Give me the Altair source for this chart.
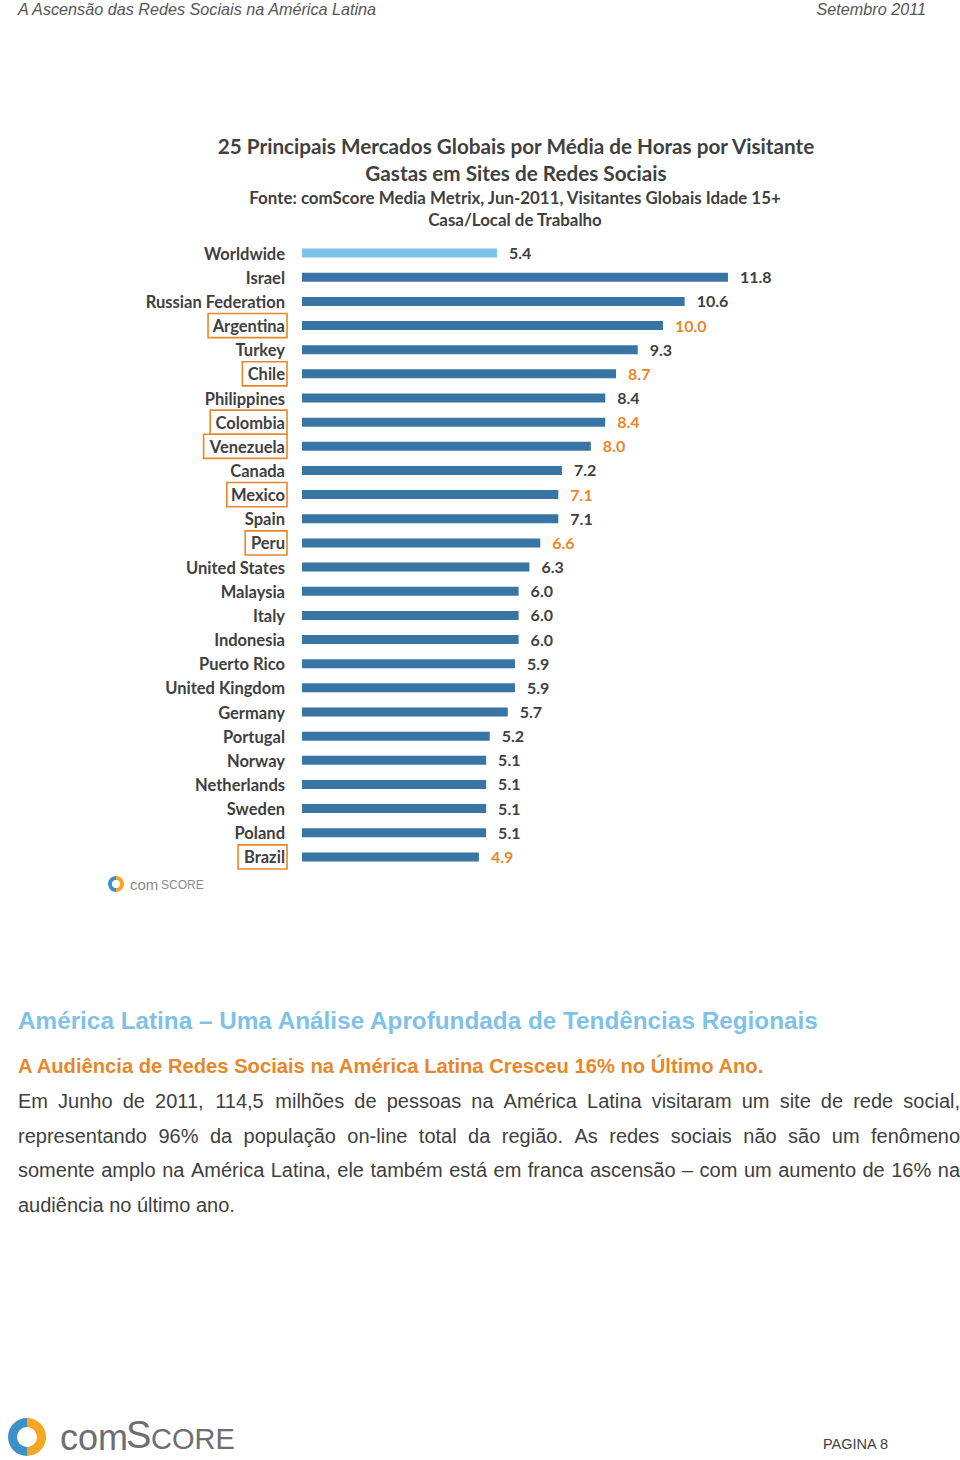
import altair as alt
import pandas as pd

# ---------------- data ----------------
countries = ["Worldwide", "Israel", "Russian Federation", "Argentina", "Turkey", "Chile",
             "Philippines", "Colombia", "Venezuela", "Canada", "Mexico", "Spain", "Peru",
             "United States", "Malaysia", "Italy", "Indonesia", "Puerto Rico",
             "United Kingdom", "Germany", "Portugal", "Norway", "Netherlands", "Sweden",
             "Poland", "Brazil"]
hours = [5.4, 11.8, 10.6, 10.0, 9.3, 8.7, 8.4, 8.4, 8.0, 7.2, 7.1, 7.1, 6.6, 6.3,
         6.0, 6.0, 6.0, 5.9, 5.9, 5.7, 5.2, 5.1, 5.1, 5.1, 5.1, 4.9]
latam = ["Argentina", "Chile", "Colombia", "Venezuela", "Mexico", "Peru", "Brazil"]

title_lines = ["25 Principais Mercados Globais por Média de Horas por Visitante",
               "Gastas em Sites de Redes Sociais"]
subtitle_lines = ["Fonte: comScore Media Metrix, Jun-2011, Visitantes Globais Idade 15+",
                  "Casa/Local de Trabalho"]
header_left = "A Ascensão das Redes Sociais na América Latina"
header_right = "Setembro 2011"
section_title = "América Latina – Uma Análise Aprofundada de Tendências Regionais"
section_sub = "A Audiência de Redes Sociais na América Latina Cresceu 16% no Último Ano."
body_lines = ["Em Junho de 2011, 114,5 milhões de pessoas na América Latina visitaram um site de rede social,",
              "representando 96% da população on-line total da região. As redes sociais não são um fenômeno",
              "somente amplo na América Latina, ele também está em franca ascensão – com um aumento de 16% na",
              "audiência no último ano."]
page_label = "PAGINA 8"

# ---------------- layout ----------------
OX, OY = 302, 241          # plot-area origin on the page
W, H = 600, 628
CHART_FONT = "Lato"
PAGE_FONT = "Liberation Sans"
GREY = "#404040"
ORANGE = "#E8872A"
DARK_BAR = "#3874A4"
LIGHT_BAR = "#7DC4EC"
LABEL_SIZE = 16.5
VALUE_SIZE = 16

# rough glyph widths (em) for label boxes (Lato bold)
_cw = {"A": .66, "B": .62, "C": .62, "M": .86, "P": .6, "V": .66, "a": .51, "b": .56,
       "c": .46, "e": .52, "g": .5, "h": .56, "i": .26, "l": .26, "m": .84, "n": .56,
       "o": .56, "r": .37, "t": .36, "u": .56, "x": .5, "z": .46}


def text_w(s, size):
    return sum(_cw.get(ch, .52) for ch in s) * size


# Arial / Liberation Sans advance widths (1/1000 em) for justification
_aw = {" ": 278, ",": 278, ".": 278, "-": 333, "%": 889, "–": 556,
       "A": 667, "E": 667, "J": 500, "L": 556}
for ch in "0123456789abdeghnopqu":
    _aw[ch] = 556
for ch in "ckstvxyz":
    _aw[ch] = 500
_aw.update({"f": 278, "t": 278, "i": 222, "j": 222, "l": 222, "m": 833, "r": 333, "w": 722})
for acc, b in zip("áàâãéêíóôõúç", "aaaaeeioooua"):
    _aw[acc] = _aw[b] if acc != "ç" else 500


def arial_w(s, size):
    return sum(_aw.get(ch, 556) for ch in s) * size / 1000.0


df = pd.DataFrame({"country": countries, "hours": hours})
df["is_latam"] = df["country"].isin(latam)
df["is_world"] = df["country"] == "Worldwide"
df["box_x"] = [-17 - text_w(c, LABEL_SIZE) - 6 if c in latam else None for c in countries]
df["box_x2"] = -15

ysc = alt.Scale(domain=countries, paddingInner=0, paddingOuter=0)
xsc = alt.Scale(domain=[0, 600 / 36.1], nice=False, zero=True)

base = alt.Chart(df)
Y = alt.Y("country:N", scale=ysc, axis=None, sort=countries)

bars = base.mark_bar(size=9).encode(
    y=Y,
    x=alt.X("hours:Q", scale=xsc, axis=None),
    color=alt.condition("datum.is_world", alt.value(LIGHT_BAR), alt.value(DARK_BAR)),
)

values = base.mark_text(align="left", baseline="middle", dx=12, dy=1, font=CHART_FONT,
                        fontWeight="bold", fontSize=VALUE_SIZE).encode(
    y=Y,
    x=alt.X("hours:Q", scale=xsc, axis=None),
    text=alt.Text("hours:Q", format=".1f"),
    color=alt.condition("datum.is_latam", alt.value(ORANGE), alt.value(GREY)),
)

labels = base.mark_text(align="right", baseline="middle", dy=1.5, font=CHART_FONT,
                        fontWeight="bold", fontSize=LABEL_SIZE, color=GREY).encode(
    y=Y,
    x=alt.value(-17),
    text="country:N",
)

boxes = base.transform_filter("datum.is_latam").mark_rect(
    fill=None, stroke=ORANGE, strokeWidth=1.6, fillOpacity=0).encode(
    y=Y,
    x=alt.X("box_x:Q", scale=None),
    x2="box_x2:Q",
)

one = pd.DataFrame({"k": [0]})


def txt(s, x, y, size, color=GREY, font=PAGE_FONT, weight="normal", align="left",
        style="normal", baseline="middle"):
    return alt.Chart(one).mark_text(
        text=s, fontSize=size, color=color, font=font, fontWeight=weight,
        align=align, fontStyle=style, baseline=baseline,
    ).encode(x=alt.value(x - OX), y=alt.value(y - OY))


def arc(cx, cy, r, r2, t1, t2, color):
    return alt.Chart(one).mark_arc(
        radius=r, radius2=r2, theta=t1, theta2=t2, color=color,
    ).encode(x=alt.value(cx - OX), y=alt.value(cy - OY))


def justified(line, x0, x1, y, size, color):
    words = line.split(" ")
    widths = [arial_w(w, size) for w in words]
    gap = (x1 - x0 - sum(widths)) / (len(words) - 1)
    out, x = [], x0
    for w, wd in zip(words, widths):
        out.append(txt(w, x, y, size, color=color))
        x += wd + gap
    return out


PI = 3.14159265
BODY_SIZE = 20

annot = [
    txt(header_left, 18, 10, 16.2, color="#555555", style="italic"),
    txt(header_right, 926, 10, 16.2, color="#555555", style="italic", align="right"),
    txt(title_lines[0], 516, 148, 20.7, font=CHART_FONT, weight="bold", align="center"),
    txt(title_lines[1], 516, 175, 20.7, font=CHART_FONT, weight="bold", align="center"),
    txt(subtitle_lines[0], 515, 199, 16.9, font=CHART_FONT, weight="bold", align="center"),
    txt(subtitle_lines[1], 515, 221, 16.9, font=CHART_FONT, weight="bold", align="center"),
    # small logo
    arc(116, 884, 8, 4, PI, 2 * PI, "#3C92C8"),
    arc(116, 884, 8, 4, 0, PI, "#F5A623"),
    txt("com", 130, 885, 15, color="#8a8a8a"),
    txt("SCORE", 161, 885, 12, color="#8a8a8a"),
    # section texts
    txt(section_title, 18, 1022, 24.3, color="#7EC2E8", weight="bold"),
    txt(section_sub, 18, 1067, 20.2, color=ORANGE, weight="bold"),
]
for i, line in enumerate(body_lines):
    yy = 1102 + i * 34.7
    if i < len(body_lines) - 1:
        annot += justified(line, 18, 960, yy, BODY_SIZE, GREY)
    else:
        annot.append(txt(line, 18, yy, BODY_SIZE, color=GREY))

annot += [
    arc(27, 1437, 19, 10, PI, 2 * PI, "#3C92C8"),
    arc(27, 1437, 19, 10, 0, PI, "#F5A623"),
    txt("com", 60, 1439, 36, color="#6d6e71"),
    txt("S", 126, 1437, 38, color="#6d6e71"),
    txt("CORE", 151, 1440, 29, color="#6d6e71"),
    txt(page_label, 823, 1445, 14.5, color=GREY),
]

chart = alt.layer(bars, values, labels, boxes, *annot).properties(
    width=W, height=H,
    autosize=alt.AutoSizeParams(type="none"),
    padding={"left": OX, "top": OY, "right": 960 - OX - W, "bottom": 1460 - OY - H},
    background="white",
).configure_view(stroke=None)

chart.save("out.html", embed_options={"renderer": "svg", "actions": False})
